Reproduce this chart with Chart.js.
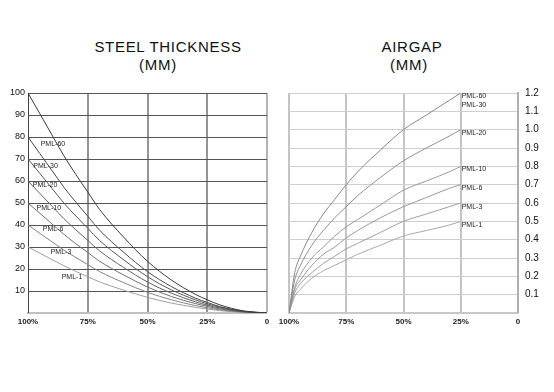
<!DOCTYPE html>
<html>
<head>
<meta charset="utf-8">
<script src="https://cdn.jsdelivr.net/npm/chart.js@4"></script>
<style>
  html, body { margin: 0; padding: 0; background: #fff; }
  body { width: 554px; height: 392px; position: relative; overflow: hidden; font-family: Arial, "Liberation Sans", sans-serif; }
  canvas { position: absolute; left: 0; top: 0; }
  .t { position: absolute; font-size: 15px; line-height: 15px; letter-spacing: 0.7px; color: #111; text-align: center; white-space: nowrap; }
</style>
</head>
<body>
<div class="t" style="left:68px;top:39px;width:200px;">STEEL THICKNESS</div>
<div class="t" style="left:108px;top:57px;width:100px;">(MM)</div>
<div class="t" style="left:362px;top:39px;width:100px;">AIRGAP</div>
<div class="t" style="left:359px;top:57px;width:100px;">(MM)</div>
<canvas id="c1" width="554" height="392"></canvas>
<canvas id="c2" width="554" height="392"></canvas>
<script>
// ---------- DATA ----------
const seriesNames = ["PML-60", "PML-30", "PML-20", "PML-10", "PML-6", "PML-3", "PML-1"];

// Steel thickness (mm) vs % position
const steelX = [100, 95, 90, 85, 80, 75, 70, 60, 50, 40, 30, 25, 20, 10, 0];
const steelPML60 = [100, 90.5, 81, 71.5, 63, 55, 47, 34.5, 23.5, 15, 8.5, 6, 3.8, 1, 0];
const steelPML30 = [80, 72.4, 64.8, 57.2, 50.4, 44, 37.6, 27.6, 18.8, 12, 6.8, 4.8, 3, 0.8, 0];
const steelPML20 = [70, 63.4, 56.7, 50, 44.1, 38.5, 32.9, 24.2, 16.5, 10.5, 6, 4.2, 2.7, 0.7, 0];
const steelPML10 = [60, 54.3, 48.6, 42.9, 37.8, 33, 28.2, 20.7, 14.1, 9, 5.1, 3.6, 2.3, 0.6, 0];
const steelPML6  = [50, 45.3, 40.5, 35.8, 31.5, 27.5, 23.5, 17.3, 11.8, 7.5, 4.3, 3, 1.9, 0.5, 0];
const steelPML3  = [40, 36.2, 32.4, 28.6, 25.2, 22, 18.8, 13.8, 9.4, 6, 3.4, 2.4, 1.5, 0.4, 0];
const steelPML1  = [30, 27.2, 24.3, 21.5, 18.9, 16.5, 14.1, 10.4, 7.1, 4.5, 2.6, 1.8, 1.1, 0.3, 0];

// Airgap (mm) vs % position
const gapX = [100, 97.5, 95, 90, 85, 80, 75, 70, 60, 50, 40, 30, 25];
const gapPML60_30 = [0, 0.22, 0.31, 0.44, 0.54, 0.62, 0.70, 0.77, 0.89, 1.00, 1.08, 1.16, 1.2];
const gapPML20 = [0, 0.18, 0.26, 0.37, 0.45, 0.52, 0.58, 0.64, 0.74, 0.83, 0.90, 0.965, 1.0];
const gapPML10 = [0, 0.14, 0.21, 0.30, 0.36, 0.42, 0.47, 0.51, 0.59, 0.67, 0.72, 0.77, 0.8];
const gapPML6  = [0, 0.13, 0.18, 0.26, 0.32, 0.36, 0.41, 0.45, 0.52, 0.58, 0.63, 0.68, 0.7];
const gapPML3  = [0, 0.11, 0.16, 0.22, 0.27, 0.31, 0.35, 0.38, 0.44, 0.50, 0.54, 0.58, 0.6];
const gapPML1  = [0, 0.09, 0.13, 0.19, 0.23, 0.26, 0.29, 0.32, 0.37, 0.42, 0.45, 0.48, 0.5];

const xTicks = [100, 75, 50, 25, 0];
const steelYTicks = [10, 20, 30, 40, 50, 60, 70, 80, 90, 100];
const gapYTicks = [0.1, 0.2, 0.3, 0.4, 0.5, 0.6, 0.7, 0.8, 0.9, 1.0, 1.1, 1.2];

// ---------- LABEL ANCHORS (data coords) ----------
const steelLabels = [
  { t: "PML-60", x: 94.7, y: 76.7 },
  { t: "PML-30", x: 97.8, y: 67.0 },
  { t: "PML-20", x: 98.0, y: 58.2 },
  { t: "PML-10", x: 96.4, y: 47.6 },
  { t: "PML-6",  x: 93.8, y: 38.0 },
  { t: "PML-3",  x: 90.5, y: 27.7 },
  { t: "PML-1",  x: 85.9, y: 16.5 }
];
const gapLabels = [
  { t: "PML-60", x: 24.6, y: 1.184 },
  { t: "PML-30", x: 24.6, y: 1.135 },
  { t: "PML-20", x: 24.6, y: 0.984 },
  { t: "PML-10", x: 24.6, y: 0.786 },
  { t: "PML-6",  x: 24.6, y: 0.682 },
  { t: "PML-3",  x: 24.6, y: 0.580 },
  { t: "PML-1",  x: 24.6, y: 0.480 }
];

const FONT = "Arial, 'Liberation Sans', sans-serif";

function toPts(xs, ys) { return xs.map((x, i) => ({ x: x, y: ys[i] })); }

const labelPlugin = {
  id: 'curveLabels',
  afterDatasetsDraw(chart, args, opts) {
    const ctx = chart.ctx;
    ctx.save();
    ctx.font = "7px " + FONT;
    ctx.fillStyle = "#222";
    ctx.textAlign = "left";
    ctx.textBaseline = "middle";
    opts.items.forEach(l => {
      ctx.fillText(l.t, chart.scales.x.getPixelForValue(l.x), chart.scales.y.getPixelForValue(l.y));
    });
    ctx.restore();
  }
};

function ds(data, color) {
  return { data: data, borderColor: color, borderWidth: 1, pointRadius: 0, fill: false, cubicInterpolationMode: 'monotone' };
}

const xTickCb = v => (v === 0 ? "0" : v + "%");

// ---------- LEFT CHART ----------
new Chart(document.getElementById('c1'), {
  type: 'line',
  data: {
    datasets: [
      ds(toPts(steelX, steelPML60), "#3a3a3a"),
      ds(toPts(steelX, steelPML30), "#4a4a4a"),
      ds(toPts(steelX, steelPML20), "#555"),
      ds(toPts(steelX, steelPML10), "#606060"),
      ds(toPts(steelX, steelPML6), "#707070"),
      ds(toPts(steelX, steelPML3), "#858585"),
      ds(toPts(steelX, steelPML1), "#a0a0a0")
    ]
  },
  options: {
    responsive: false, animation: false,
    layout: { padding: { left: 0, top: 93, right: 287, bottom: 0 } },
    plugins: { legend: { display: false }, tooltip: { enabled: false }, curveLabels: { items: steelLabels } },
    scales: {
      x: {
        type: 'linear', reverse: true, min: 0, max: 100,
        afterBuildTicks: s => { s.ticks = xTicks.map(v => ({ value: v })); },
        afterFit: s => { s.height = 79; },
        grid: {
          drawTicks: false,
          color: ctx => (ctx.tick && ctx.tick.value === 0 ? "#b4b4b4" : "#949494"),
          lineWidth: ctx => (ctx.tick && ctx.tick.value === 100 ? 0 : 2)
        },
        border: { display: true, color: "#c0c0c0", width: 2 },
        ticks: { callback: xTickCb, padding: 4, color: "#222", font: { family: FONT, size: 8, weight: 'bold' }, maxRotation: 0 }
      },
      y: {
        type: 'linear', min: 0, max: 100,
        afterBuildTicks: s => { s.ticks = [0].concat(steelYTicks).map(v => ({ value: v })); },
        afterFit: s => { s.width = 28; },
        grid: { drawTicks: false, color: "#555", lineWidth: ctx => (ctx.tick && ctx.tick.value === 0 ? 0 : 1) },
        border: { display: true, color: "#444", width: 1 },
        ticks: { callback: v => (v === 0 ? "" : String(v)), padding: 3, color: "#111", font: { family: FONT, size: 9 } }
      }
    }
  },
  plugins: [labelPlugin]
});

// ---------- RIGHT CHART ----------
new Chart(document.getElementById('c2'), {
  type: 'line',
  data: {
    datasets: [
      ds(toPts(gapX, gapPML60_30), "#888"),
      ds(toPts(gapX, gapPML20), "#909090"),
      ds(toPts(gapX, gapPML10), "#999"),
      ds(toPts(gapX, gapPML6), "#999"),
      ds(toPts(gapX, gapPML3), "#a0a0a0"),
      ds(toPts(gapX, gapPML1), "#a8a8a8")
    ]
  },
  options: {
    responsive: false, animation: false,
    layout: { padding: { left: 289, top: 93, right: 0, bottom: 0 } },
    plugins: { legend: { display: false }, tooltip: { enabled: false }, curveLabels: { items: gapLabels } },
    scales: {
      x: {
        type: 'linear', reverse: true, min: 0, max: 100,
        afterBuildTicks: s => { s.ticks = xTicks.map(v => ({ value: v })); },
        afterFit: s => { s.height = 79; },
        grid: {
          drawTicks: false,
          color: "#c4c4c4",
          lineWidth: ctx => (ctx.tick && ctx.tick.value === 0 ? 0 : 2)
        },
        border: { display: true, color: "#c8c8c8", width: 2 },
        ticks: { callback: xTickCb, padding: 4, color: "#222", font: { family: FONT, size: 8, weight: 'bold' }, maxRotation: 0 }
      },
      y: {
        type: 'linear', position: 'right', min: 0, max: 1.2,
        afterBuildTicks: s => { s.ticks = [0].concat(gapYTicks).map(v => ({ value: v })); },
        afterFit: s => { s.width = 36; },
        grid: { drawTicks: false, color: "#cfcfcf", lineWidth: ctx => (ctx.tick && ctx.tick.value === 0 ? 0 : 1) },
        border: { display: true, color: "#b0b0b0", width: 2 },
        ticks: { callback: v => (v === 0 ? "" : v.toFixed(1)), padding: 7, color: "#111", font: { family: FONT, size: 10 } }
      }
    }
  },
  plugins: [labelPlugin]
});
</script>
</body>
</html>
